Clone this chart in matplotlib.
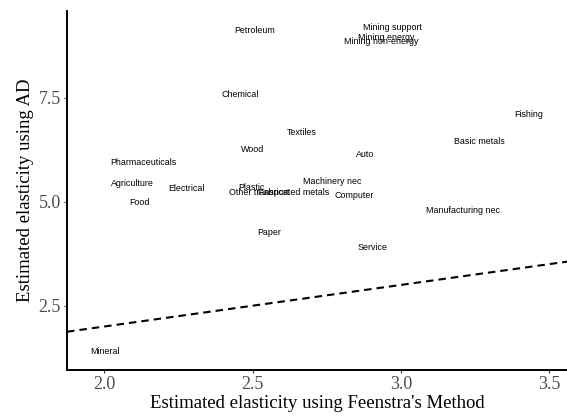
import matplotlib.pyplot as plt

# sectores y elasticidades estimadas
sectores = ['Petroleum', 'Mining support', 'Mining energy', 'Mining non-energy',
            'Chemical', 'Textiles', 'Wood', 'Auto', 'Pharmaceuticals', 'Basic metals',
            'Fishing', 'Agriculture', 'Electrical', 'Food', 'Plastic', 'Other transport',
            'Fabricated metals', 'Machinery nec', 'Computer', 'Manufacturing nec',
            'Paper', 'Service', 'Mineral']
feenstra = [2.506, 2.971, 2.951, 2.933,
            2.457, 2.666, 2.500, 2.880, 2.132, 3.263,
            3.431, 2.095, 2.277, 2.119, 2.496, 2.521,
            2.637, 2.767, 2.843, 3.207,
            2.555, 2.902, 2.002]
ad = [9.127, 9.183, 8.950, 8.846,
      7.572, 6.659, 6.260, 6.139, 5.947, 6.459,
      7.108, 5.433, 5.329, 4.976, 5.346, 5.214,
      5.210, 5.481, 5.144, 4.800,
      4.255, 3.904, 1.404]

fig = plt.figure(figsize=(5.67, 4.17), dpi=100)
ax = fig.add_axes([0.1182, 0.1127, 0.8818, 0.8609])

for nombre, x, y in zip(sectores, feenstra, ad):
    ax.text(x, y, nombre, ha='center', va='center', fontsize=6.4,
            family='Liberation Sans', color='black')

# recta de 45 grados
ax.axline((0, 0), slope=1, color='black', linestyle=(0, (3.6, 2.4)), linewidth=1.5)

ax.set_xlim(1.874, 3.559)
ax.set_ylim(0.954, 9.584)
ax.set_xticks([2.0, 2.5, 3.0, 3.5])
ax.set_xticklabels(['2.0', '2.5', '3.0', '3.5'])
ax.set_yticks([2.5, 5.0, 7.5])
ax.set_yticklabels(['2.5', '5.0', '7.5'])

for s in ['top', 'right']:
    ax.spines[s].set_visible(False)
for s in ['left', 'bottom']:
    ax.spines[s].set_linewidth(1.4)
    ax.spines[s].set_color('black')

ax.tick_params(length=2.5, width=0.8, color='#333333', labelcolor='#4d4d4d',
               labelsize=13, pad=2)
for lab in ax.get_xticklabels() + ax.get_yticklabels():
    lab.set_family('Liberation Serif')

ax.set_xlabel("Estimated elasticity using Feenstra's Method", family='Liberation Serif',
              fontsize=13.5, labelpad=1)
ax.set_ylabel('Estimated elasticity using AD', family='Liberation Serif',
              fontsize=13.5, labelpad=3)

fig.savefig('out.png', dpi=100)
